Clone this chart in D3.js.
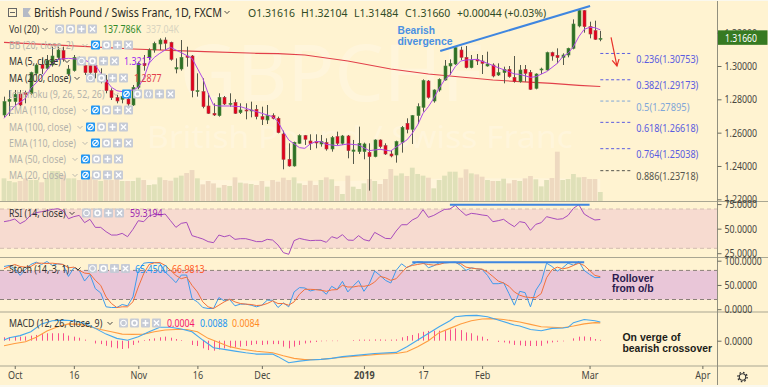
<!DOCTYPE html>
<html>
<head>
<meta charset="utf-8">
<script src="https://cdn.jsdelivr.net/npm/d3@7/dist/d3.min.js"></script>
<style>
  html, body { margin: 0; padding: 0; background: #fff3d1; overflow: hidden; }
  svg { display: block; }
  text { font-family: "Noto Sans", sans-serif; }
</style>
</head>
<body>
<div id="container"></div>
<script>
/* DATA */
const opens = [1.2706,1.2788,1.2786,1.2832,1.2840,1.2836,1.2956,1.3010,1.2986,1.3006,
  1.3052,1.3092,1.2952,1.2972,1.3046,1.3002,1.3002,1.3002,1.2916,1.2916,
  1.2852,1.2810,1.2800,1.2802,1.2766,1.2872,1.3016,1.3052,1.3096,1.3132,
  1.3156,1.3142,1.2982,1.2982,1.3060,1.3060,1.2846,1.2846,1.2760,1.2716,
  1.2702,1.2812,1.2772,1.2782,1.2720,1.2736,1.2732,1.2740,1.2696,1.2676,
  1.2702,1.2686,1.2592,1.2440,1.2400,1.2536,1.2582,1.2550,1.2546,1.2532,
  1.2540,1.2502,1.2576,1.2536,1.2580,1.2488,1.2486,1.2486,1.2482,1.2456,
  1.2556,1.2522,1.2472,1.2466,1.2542,1.2656,1.2620,1.2702,1.2752,1.2910,
  1.2790,1.2856,1.2916,1.3000,1.3012,1.3096,1.3052,1.2990,1.3040,1.3030,
  1.3000,1.3006,1.2946,1.2960,1.2980,1.2932,1.2906,1.2980,1.2962,1.2866,
  1.2976,1.2976,1.3080,1.3064,1.3052,1.3066,1.3106,1.3240,1.3332,1.3236,
  1.3212,1.31616]
const highs = [1.2816,1.2856,1.2856,1.2856,1.2852,1.2966,1.3016,1.3046,1.3066,1.3116,
  1.3116,1.3116,1.3006,1.3066,1.3056,1.3036,1.3026,1.3016,1.2986,1.2946,
  1.2866,1.2826,1.2846,1.2856,1.2886,1.3026,1.3066,1.3106,1.3146,1.3166,
  1.3172,1.3146,1.3046,1.3156,1.3116,1.3066,1.2956,1.2926,1.2836,1.2776,
  1.2836,1.2820,1.2836,1.2800,1.2776,1.2776,1.2786,1.2766,1.2756,1.2766,
  1.2716,1.2696,1.2612,1.2536,1.2546,1.2590,1.2586,1.2590,1.2590,1.2586,
  1.2566,1.2580,1.2606,1.2586,1.2586,1.2556,1.2636,1.2540,1.2536,1.2560,
  1.2560,1.2536,1.2496,1.2552,1.2640,1.2686,1.2706,1.2776,1.2920,1.2916,
  1.2860,1.2926,1.3036,1.3040,1.3116,1.3116,1.3120,1.3066,1.3072,1.3066,
  1.3086,1.3016,1.3016,1.2996,1.3000,1.3060,1.3006,1.3006,1.2976,1.2956,
  1.2990,1.3086,1.3086,1.3106,1.3076,1.3110,1.3280,1.3336,1.3336,1.3266,
  1.3272,1.32104]
const lows = [1.2692,1.2700,1.2766,1.2760,1.2776,1.2826,1.2946,1.2952,1.2976,1.2996,
  1.3036,1.3026,1.2940,1.2966,1.3026,1.2946,1.2946,1.2926,1.2896,1.2836,
  1.2796,1.2776,1.2776,1.2760,1.2760,1.2860,1.2972,1.3036,1.3080,1.3096,
  1.3096,1.3032,1.2956,1.2972,1.2996,1.2812,1.2816,1.2746,1.2712,1.2700,
  1.2696,1.2766,1.2756,1.2712,1.2712,1.2680,1.2692,1.2680,1.2646,1.2652,
  1.2680,1.2596,1.2380,1.2396,1.2396,1.2532,1.2526,1.2496,1.2506,1.2516,
  1.2492,1.2486,1.2526,1.2526,1.2446,1.2412,1.2472,1.2440,1.2252,1.2452,
  1.2506,1.2466,1.2452,1.2420,1.2480,1.2596,1.2532,1.2652,1.2726,1.2804,
  1.2780,1.2846,1.2912,1.2946,1.3006,1.3036,1.2986,1.2986,1.3006,1.2952,
  1.2996,1.2932,1.2940,1.2896,1.2930,1.2900,1.2900,1.2906,1.2856,1.2860,
  1.2952,1.2972,1.3032,1.3016,1.3006,1.3052,1.3100,1.3232,1.3200,1.3166,
  1.3156,1.31484]
const closes = [1.2786,1.2800,1.2830,1.2766,1.2830,1.2960,1.3006,1.2986,1.3032,1.3060,
  1.3096,1.3040,1.2982,1.3052,1.3036,1.2960,1.2960,1.2960,1.2940,1.2852,
  1.2810,1.2790,1.2816,1.2772,1.2872,1.3016,1.3002,1.3096,1.3136,1.3156,
  1.3136,1.3040,1.2990,1.3052,1.3052,1.2852,1.2852,1.2756,1.2716,1.2706,
  1.2812,1.2772,1.2776,1.2716,1.2736,1.2732,1.2736,1.2696,1.2680,1.2702,
  1.2686,1.2600,1.2440,1.2400,1.2542,1.2582,1.2560,1.2534,1.2538,1.2546,
  1.2502,1.2570,1.2536,1.2580,1.2492,1.2496,1.2536,1.2532,1.2456,1.2556,
  1.2516,1.2472,1.2460,1.2546,1.2632,1.2620,1.2702,1.2756,1.2912,1.2812,
  1.2856,1.2920,1.3000,1.3016,1.3110,1.3052,1.2990,1.3036,1.3030,1.3016,
  1.3012,1.2940,1.2960,1.2980,1.2936,1.2906,1.2976,1.2956,1.2860,1.2952,
  1.2982,1.3080,1.3060,1.3050,1.3066,1.3106,1.3252,1.3332,1.3236,1.3192,
  1.3160,1.31660]
const volumes = [347,306,286,306,347,321,321,286,347,459,
  459,398,347,347,321,321,372,321,306,321,
  321,347,306,306,306,357,321,245,255,362,
  321,311,357,388,428,474,347,255,306,270,
  204,245,230,362,281,270,260,245,306,219,
  321,296,357,321,362,270,245,311,245,321,
  362,332,230,107,388,219,184,270,337,306,
  260,337,490,388,423,383,510,413,388,357,
  194,321,388,449,449,357,485,423,408,372,
  321,306,306,342,270,321,306,347,383,332,
  224,321,352,755,321,337,413,362,367,337,
  337,137.786]
const volMaBars = [19,40,60,80,100,111]
const volMa = [330,320,300,340,350,337]

const ma5Bars = [0,2,4,5,7,8,9,10,12,14,15,17,18,20,21,22,24,25,26,27,28,29,30,31,33,35,37,38,39,40,42,44,47,
  48,50,51,52,53,55,56,57,58,59,60,62,64,66,68,70,72,74,75,76,77,78,79,80,81,82,83,84,85,86,88,90,92,94,95,96,
  98,99,101,103,104,105,106,107,108,109,110,111]
const ma5 = [1.2686,1.2760,1.2806,1.2866,1.2932,1.2976,1.3016,1.3040,1.3046,1.3040,1.3036,1.3006,1.2956,1.2872,1.2852,1.2846,1.2856,1.2872,1.2926,1.3016,1.3052,1.3076,1.3096,1.3112,1.3080,1.3046,1.2926,1.2836,1.2766,1.2760,1.2760,1.2756,1.2726,
  1.2716,1.2696,1.2666,1.2606,1.2556,1.2510,1.2506,1.2532,1.2546,1.2546,1.2530,1.2522,1.2532,1.2526,1.2492,1.2500,1.2490,1.2536,1.2556,1.2596,1.2646,1.2716,1.2756,1.2806,1.2866,1.2916,1.2946,1.2996,1.3030,1.3036,1.3040,1.3016,1.2990,1.2966,1.2952,1.2950,
  1.2932,1.2936,1.2966,1.3016,1.3056,1.3076,1.3116,1.3176,1.3220,1.3232,1.3230,1.3217]
const ma200Bars = [0,12,24,36,47,51,56,64,72,79,83,91,96,102,107,111]
const ma200 = [1.3142,1.3122,1.3102,1.3088,1.3076,1.3074,1.3066,1.3030,1.2982,1.2952,1.2940,1.2916,1.2906,1.2896,1.2884,1.2877]

const rsi = [57.1,58.1,59.8,55.1,58.1,63.9,66.2,67.3,68.3,69.6,
  70.3,68.3,60.1,62.2,63.5,56.1,59.5,51.3,51.3,46.9,
  43.5,43.5,45.2,41.8,49.3,58.1,57.1,62.9,64.6,63.9,
  64.9,58.1,51.3,55.4,56.4,42.9,41.2,39.5,36.8,35.7,
  43.5,41.8,43.2,39.1,39.8,39.8,38.4,36.8,36.8,39.1,
  38.4,33.4,25.6,23.9,37.8,40.1,38.8,37.8,38.1,38.1,
  36.1,41.8,40.1,43.9,38.4,38.1,42.9,38.8,37.4,46.2,
  43.2,40.1,39.8,47.6,54.0,54.0,58.8,61.5,69.3,61.5,
  63.5,66.6,69.6,70.0,73.7,68.3,63.5,65.6,64.9,63.9,
  63.2,57.1,58.1,59.5,55.4,52.0,57.1,56.1,48.3,54.4,
  56.1,62.2,60.8,59.5,60.1,63.5,70.7,74.4,64.9,61.5,
  58.8,59.3194]
const stochK = [88.1,90.2,83.3,69.7,82.0,92.2,97.0,92.2,98.3,90.2,
  93.6,92.2,67.6,85.4,80,58.1,71.7,42.4,33.5,4.9,
  3.5,3.5,9.7,7.0,25.4,80,94.9,96.3,96.3,94.9,
  76.5,66.3,54.7,70.4,70.4,21.9,15.1,3.5,1.5,1.5,
  24.0,17.2,19.9,7.0,10.4,10.4,8.3,4.9,8.3,18.5,
  18.5,3.5,13.1,4.9,35.6,44.5,43.8,37.6,40.4,40.4,
  30.8,47.2,40.4,57.4,35.6,47.9,58.8,36.9,52.6,78.6,
  69.7,59.5,54.0,80,93.6,85.4,92.2,97.7,97.0,85.4,
  89.5,95.6,95.6,96.3,97.0,90.2,80,85.4,83.3,82.0,
  69.7,52.6,52.6,54.7,32.2,8.3,36.9,34.2,4.9,39.0,
  56.0,94.9,88.1,78.6,85.4,94.9,90.8,98.3,80,71.7,
  65,65.45]
const stochD = [83.3,88.1,92.2,88.1,86.7,88.1,94.9,94.9,94.2,94.9,
  93.6,92.2,85.4,86.7,80,74.5,73.1,59.5,49.2,25.4,
  11.7,3.5,4.9,4.9,15.1,45.8,73.1,92.2,95.6,96.3,
  90.2,80,69.7,62.9,66.1,49.2,35.6,15.1,4.9,1.5,
  8.3,15.1,20.6,15.1,11.7,10.4,9.7,7.6,8.3,11.7,
  17.2,11.7,11.7,8.3,15.1,30.8,41.0,41.0,40.4,39.0,
  36.9,39.7,40.4,49.2,45.8,45.8,47.9,47.2,49.2,56.0,
  67.6,64.9,59.5,62.9,75.1,86.7,90.2,92.2,94.2,92.2,
  90.8,92.2,95.6,96.3,96.3,94.2,86.7,84.7,83.3,82.6,
  76.5,67.6,58.1,54.0,47.2,35.6,28.8,25.4,24.0,24.0,
  32.2,64.9,81.3,86.7,83.3,85.4,90.2,94.9,90.2,80,
  69.7,66.98]

const macdBars = [0,1,3,5,7,9,11,13,15,17,19,21,23,25,27,29,31,33,35,37,39,41,43,45,47,48,50,51,53,55,57,59,61,63,66,69,73,75,78,81,83,84,86,88,90,92,95,96,98,100,102,104,105,106,108,110,111]
const macd = [.0003,.0014,.0024,.0042,.0079,.0094,.0097,.0094,.0082,.0058,.0031,.0011,.0002,.0019,.0042,.0063,.0063,.0055,.0042,.0003,-.0033,-.0041,-.0049,-.0057,-.0063,-.0063,-.0063,-.0075,-.0104,-.0096,-.0091,-.0088,-.0083,-.0075,-.0068,-.0060,-.0055,-.0028,.0019,.0066,.0094,.0113,.0118,.0119,.0113,.0097,.0074,.0069,.0053,.0047,.0058,.0060,.0063,.0085,.0100,.0094,.0088]
const signalBars = [0,2,4,6,8,10,12,14,16,18,20,22,24,26,28,30,32,34,36,38,40,42,44,46,47,50,52,54,56,59,62,66,70,73,75,77,79,81,83,85,87,89,91,93,96,98,100,102,104,106,108,110,111]
const signal = [-.0024,-.0013,-.0005,.0016,.0046,.0066,.0079,.0077,.0066,.0053,.0042,.0031,.0030,.0031,.0042,.0050,.0053,.0053,.0042,.0011,-.0009,-.0028,-.0039,-.0046,-.0050,-.0057,-.0071,-.0083,-.0089,-.0088,-.0080,-.0072,-.0063,-.0060,-.0052,-.0028,0,.0038,.0058,.0079,.0094,.0102,.0104,.0100,.0088,.0077,.0066,.0063,.0061,.0069,.0079,.0085,.0084]
const hist = [.0016,.0017,.0019,.0019,.0020,.0024,.0027,.0031,.0035,.0035,
  .0035,.0035,.0024,.0019,.0014,.0005,0,-.0013,-.0016,-.0024,
  -.0031,-.0036,-.0039,-.0036,-.0020,-.0009,.0003,.0008,.0011,.0016,
  .0019,.0014,.0008,.0003,0,-.0020,-.0025,-.0036,-.0044,-.0047,
  -.0041,-.0036,-.0033,-.0031,-.0028,-.0025,-.0020,-.0016,-.0020,-.0017,
  -.0016,-.0016,-.0028,-.0036,-.0028,-.0020,-.0013,-.0009,-.0006,-.0003,
  -.0002,-.0002,-.0002,0,0,.0003,.0005,.0005,.0005,.0006,
  .0006,.0005,.0005,.0006,.0016,.0022,.0027,.0035,.0042,.0046,
  .0047,.0047,.0049,.0053,.0058,.0050,.0039,.0035,.0024,.0019,
  .0008,0,-.0006,-.0008,-.0013,-.0020,-.0022,-.0025,-.0025,-.0025,
  -.0024,-.0013,-.0008,-.0005,-.0003,0,.0011,.0019,.0020,.0017,
  .0008,.0004]

const fibLevels = ["0.236","0.382","0.5","0.618","0.764","0.886"]
const fibPrices = [1.30753,1.29173,1.27895,1.26618,1.25038,1.23718]

const timeBars = [2,13,25,36,48,67,78,89,109,130]
const timeLabels = ["Oct","16","Nov","16","Dec","2019","17","Feb","Mar","Apr"]
const priceTicks = [1.22,1.24,1.26,1.28,1.30,1.32]
const rsiTicks = [25,50,75]
const stochTicks = [0,50,100]
const macdTicks = [0]

/* CONSTANTS */
const width = 768, height = 387, axisX = 717.5
const bg = "#fff3d1", green = "#2f6f25", red = "#e4001b"
const fibColors = ["#5a5ce0","#5a5ce0","#7fa6d8","#5a5ce0","#5a5ce0","#55554d"]
const lastIdx = opens.length - 1

/* SCALES */
const x = d3.scaleLinear().domain([0, 111]).range([4, 600.3])
const yPrice = d3.scaleLinear().domain([1.22, 1.30]).range([199.3, 66])
const yVol = d3.scaleLinear().domain([0, 137.786]).range([201, 192])
const yRsi = d3.scaleLinear().domain([30, 70]).range([248.3, 209])
const yStoch = d3.scaleLinear().domain([0, 100]).range([309.2, 260.7])
const yMacd = d3.scaleLinear().domain([0, .0088]).range([340.7, 322])

const svg = d3.select("#container").append("svg").attr("width", width).attr("height", height)
svg.append("rect").attr("width", width).attr("height", height).attr("fill", bg)

svg.append("clipPath").attr("id", "mainClip").append("rect")
  .attr("x", 0).attr("y", 0).attr("width", axisX).attr("height", 201)

// squeeze a text horizontally to the width it has in the picture
const fit = (sel, len) => sel.attr("textLength", len).attr("lengthAdjust", "spacingAndGlyphs")
const squeeze = (sel, k) => fit(sel, sel.node().getComputedTextLength() * k)

/* WATERMARK */
svg.append("text").attr("x", 331).attr("y", 101).attr("text-anchor", "middle")
  .attr("fill", "#fff").attr("opacity", .22).style("font-size", "78px").text("GBPCHF")
fit(svg.append("text").attr("x", 147).attr("y", 148)
  .attr("fill", "#fff").attr("opacity", .22).style("font-size", "30px").text("British Pound / Swiss Franc"), 426)

/* MAIN PANE */
const main = svg.append("g").attr("clip-path", "url(#mainClip)")

// volume
main.append("path")
  .attr("d", d3.area().x((d, i) => x(volMaBars[i])).y0(yVol(0)).y1(d => yVol(d))(volMa))
  .attr("fill", "#fff").attr("opacity", .22)
main.selectAll("rect.vol").data(volumes).join("rect")
  .attr("class", "vol")
  .attr("x", (d, i) => x(i) - 2.4)
  .attr("width", 4.8)
  .attr("y", d => yVol(d))
  .attr("height", d => yVol(0) - yVol(d))
  .attr("fill", (d, i) => closes[i] >= opens[i] ? "#dfe0b8" : "#eed9c0")

// red moving average goes under candles
const sparseLine = (bars, vals, yScale) => d3.line().x((d, i) => x(bars[i])).y(d => yScale(d))(vals)
const fullLine = (vals, yScale) => d3.line().x((d, i) => x(i)).y(d => yScale(d))(vals)

main.append("path").attr("d", sparseLine(ma200Bars, ma200, yPrice))
  .attr("fill", "none").attr("stroke", "#e2404a").attr("stroke-width", 1.1)

// candles
const candle = main.selectAll("g.candle").data(opens).join("g").attr("class", "candle")
candle.append("line")
  .attr("x1", (d, i) => Math.round(x(i)) + .5).attr("x2", (d, i) => Math.round(x(i)) + .5)
  .attr("y1", (d, i) => yPrice(highs[i])).attr("y2", (d, i) => yPrice(lows[i]))
  .attr("stroke", "#55584a").attr("stroke-width", 1)
candle.append("rect")
  .attr("x", (d, i) => Math.round(x(i)) - 1)
  .attr("width", 3)
  .attr("y", (d, i) => yPrice(Math.max(opens[i], closes[i])))
  .attr("height", (d, i) => Math.max(1, Math.abs(yPrice(opens[i]) - yPrice(closes[i]))))
  .attr("fill", (d, i) => closes[i] >= opens[i] ? green : red)
  .attr("stroke", (d, i) => closes[i] >= opens[i] ? "#4d8a42" : "#a8434a")
  .attr("stroke-width", .6)

main.append("path").attr("d", sparseLine(ma5Bars, ma5, yPrice))
  .attr("fill", "none").attr("stroke", "#b04ae8").attr("stroke-width", 1)

// bearish divergence trend line
svg.append("line")
  .attr("x1", x(81.2)).attr("y1", yPrice(1.309)).attr("x2", x(109.1)).attr("y2", yPrice(1.336))
  .attr("stroke", "#3f86e0").attr("stroke-width", 2)

// fib levels
fibPrices.forEach((p, i) => {
  svg.append("line")
    .attr("x1", x(111)).attr("x2", x(116.9)).attr("y1", yPrice(p)).attr("y2", yPrice(p))
    .attr("stroke", fibColors[i]).attr("stroke-dasharray", "3 2.4")
  const str = `${fibLevels[i]}(${p.toFixed(5)})`
  fit(svg.append("text").attr("x", x(111) + 36).attr("y", yPrice(p) + 9.5)
    .attr("fill", fibColors[i]).style("font-size", "10.5px").text(str), str.length * 4.43)
})

// red arrow
svg.append("defs").append("marker").attr("id", "arrow")
  .attr("markerWidth", 10).attr("markerHeight", 10).attr("refX", 7).attr("refY", 4)
  .attr("orient", "auto").attr("markerUnits", "userSpaceOnUse")
  .append("path").attr("d", "M0.5,0.5L7,4L0.5,7.5").attr("fill", "none").attr("stroke", "#e8312a").attr("stroke-width", 1.2)
svg.append("line")
  .attr("x1", x(113)).attr("y1", yPrice(1.3172)).attr("x2", x(114.1)).attr("y2", yPrice(1.30))
  .attr("stroke", "#e8312a").attr("stroke-width", 1.2).attr("marker-end", "url(#arrow)")

/* RSI PANE */
svg.append("rect").attr("x", 0).attr("width", axisX).attr("y", yRsi(70)).attr("height", yRsi(30) - yRsi(70)).attr("fill", "#f7dbd0")
;[70, 30].forEach(v => svg.append("line").attr("x1", 0).attr("x2", axisX).attr("y1", yRsi(v)).attr("y2", yRsi(v))
  .attr("stroke", "#d3bcb0").attr("stroke-dasharray", "4 3"))
svg.append("path").attr("d", fullLine(rsi, yRsi)).attr("fill", "none").attr("stroke", "#a84cbc").attr("stroke-width", 1)
svg.append("line").attr("x1", x(83)).attr("x2", x(109)).attr("y1", yRsi(74.4)).attr("y2", yRsi(74.4))
  .attr("stroke", "#3f86e0").attr("stroke-width", 2)

/* STOCH PANE */
svg.append("rect").attr("x", 0).attr("width", axisX).attr("y", yStoch(80)).attr("height", yStoch(20) - yStoch(80)).attr("fill", "#e9c6d8")
;[80, 20].forEach(v => svg.append("line").attr("x1", 0).attr("x2", axisX).attr("y1", yStoch(v)).attr("y2", yStoch(v))
  .attr("stroke", "#8a8078").attr("stroke-dasharray", "4 3"))
svg.append("path").attr("d", fullLine(stochK, yStoch)).attr("fill", "none").attr("stroke", "#3f9bec").attr("stroke-width", 1)
svg.append("path").attr("d", fullLine(stochD, yStoch)).attr("fill", "none").attr("stroke", "#f2703c").attr("stroke-width", 1)
svg.append("line").attr("x1", x(76)).attr("x2", x(108)).attr("y1", yStoch(97)).attr("y2", yStoch(97))
  .attr("stroke", "#3f86e0").attr("stroke-width", 2)

/* MACD PANE */
svg.selectAll("rect.hist").data(hist).join("rect").attr("class", "hist")
  .attr("x", (d, i) => Math.round(x(i)))
  .attr("width", 1)
  .attr("y", d => Math.min(yMacd(0), yMacd(d)))
  .attr("height", d => Math.abs(yMacd(d) - yMacd(0)))
  .attr("fill", "#f8508a")
svg.append("path").attr("d", sparseLine(signalBars, signal, yMacd)).attr("fill", "none").attr("stroke", "#ff9c40").attr("stroke-width", 1.1)
svg.append("path").attr("d", sparseLine(macdBars, macd, yMacd)).attr("fill", "none").attr("stroke", "#46a8ee").attr("stroke-width", 1.1)

/* SEPARATORS */
;[201.5, 257.5, 312, 366].forEach(y => svg.append("line").attr("x1", 0).attr("x2", width).attr("y1", y).attr("y2", y)
  .attr("stroke", "#a9a692").attr("stroke-width", y === 312 ? 1.2 : 1))
svg.append("line").attr("x1", axisX).attr("x2", axisX).attr("y1", 0).attr("y2", 385).attr("stroke", "#918f7f").attr("stroke-width", 1)
svg.append("rect").attr("y", 385).attr("width", width).attr("height", 2).attr("fill", "#faf8ee")
svg.append("rect").attr("y", 0).attr("width", width).attr("height", 1).attr("fill", "#faf8ee")

/* AXES */
function rightAxis(scale, ticks, fmt) {
  const g = svg.append("g").attr("transform", `translate(${axisX},0)`)
    .call(d3.axisRight(scale).tickValues(ticks).tickFormat(fmt).tickSize(4).tickPadding(3))
  g.select(".domain").remove()
  g.selectAll("line").attr("stroke", "#6b6a5d")
  g.selectAll("text").attr("fill", "#47473f").style("font-size", "10.5px").style("font-family", '"Noto Sans", sans-serif')
    .each(function () { fit(d3.select(this), this.textContent.length * 4.65) })
}
rightAxis(yPrice, priceTicks, d3.format(".5f"))
rightAxis(yRsi, rsiTicks, d3.format(".4f"))
rightAxis(yStoch, stochTicks, d3.format(".4f"))
rightAxis(yMacd, macdTicks, d3.format(".4f"))

const xAxis = svg.append("g").attr("transform", "translate(0,366)")
  .call(d3.axisBottom(x).tickValues(timeBars).tickFormat((d, i) => timeLabels[i]).tickSize(3).tickPadding(3))
xAxis.select(".domain").remove()
xAxis.selectAll("line").attr("stroke", "#6b6a5d")
xAxis.selectAll("text").attr("fill", "#47473f").style("font-size", "10.5px").style("font-family", '"Noto Sans", sans-serif')
  .style("font-weight", (d, i) => timeLabels[i] === "2019" ? 700 : 400)
  .each(function () { squeeze(d3.select(this), .86) })

// last price tag
svg.append("rect").attr("x", axisX + .5).attr("y", yPrice(closes[lastIdx]) - 8).attr("width", 49.5).attr("height", 14.5).attr("fill", "#367a22")
fit(svg.append("text").attr("x", axisX + 7.5).attr("y", yPrice(closes[lastIdx]) + 3.5).attr("fill", "#fff")
  .style("font-size", "10.5px").text(closes[lastIdx].toFixed(5)), 32)

// gear
const gear = svg.append("g").attr("transform", "translate(742.5,377)")
gear.append("circle").attr("r", 3.2).attr("fill", "none").attr("stroke", "#333").attr("stroke-width", 1.1)
gear.append("circle").attr("r", 4.6).attr("fill", "none").attr("stroke", "#333").attr("stroke-width", 1.4).attr("stroke-dasharray", "1.6 2")

/* LEGEND */
function btn(bx, cy, kind, blue) {
  const g = svg.append("g").attr("transform", `translate(${bx + 4.5},${cy})`)
  g.append("rect").attr("x", -4.5).attr("y", -4.5).attr("width", 9).attr("height", 9).attr("rx", 1)
    .attr("fill", blue ? "#2196f3" : "#c6cbd6")
  const s = () => g.append("path").attr("fill", "none").attr("stroke", "#fff").attr("stroke-width", 1.1)
  if (kind === "eye") {
    g.append("circle").attr("r", 2.8).attr("fill", "none").attr("stroke", "#fff").attr("stroke-width", 1.1)
    if (blue) s().attr("d", "M-2.5,2.5L2.5,-2.5")
  } else if (kind === "gear") {
    g.append("circle").attr("r", 2.5).attr("fill", "none").attr("stroke", "#fff").attr("stroke-width", 1.5)
  } else if (kind === "code") {
    s().attr("d", "M-1,-3L-2.5,0L-1,3M1,-3L2.5,0L1,3")
  } else if (kind === "plus") {
    s().attr("d", "M-3,0H3M0,-3V3").attr("stroke-width", 1.4)
  } else {
    s().attr("d", "M-2.6,-2.6L2.6,2.6M-2.6,2.6L2.6,-2.6").attr("stroke-width", 1.4)
  }
}
function btnRow(bx, cy, kinds, blueFirst) {
  kinds.forEach((k, i) => btn(bx + i * 11, cy, k, blueFirst && i === 0))
}
function label(tx, cy, str, color, k) {
  const t = svg.append("text").attr("x", tx).attr("y", cy + 4).attr("fill", color)
    .style("font-size", "10.5px").text(str)
  return squeeze(t, k || .84)
}
function chevron(cx, cy, color) {
  svg.append("path").attr("d", `M${cx - 2.5},${cy - 1}L${cx},${cy + 1.5}L${cx + 2.5},${cy - 1}`)
    .attr("fill", "none").attr("stroke", color).attr("stroke-width", .9)
}
const basicBtns = ["eye", "gear", "plus", "x"]

// title row
svg.append("rect").attr("x", 8.5).attr("y", 8.5).attr("width", 8).attr("height", 8).attr("fill", "none").attr("stroke", "#666")
svg.append("line").attr("x1", 10).attr("x2", 15).attr("y1", 12.5).attr("y2", 12.5).attr("stroke", "#666")
svg.append("path").attr("d", "M23,8H31L28,12.5L31,17H23Z").attr("fill", "#b5bac6")
fit(svg.append("text").attr("x", 34).attr("y", 17).attr("fill", "#2b2b25").style("font-size", "12.5px")
  .text("British Pound / Swiss Franc, 1D, FXCM"), 188)
chevron(227, 12, "#333")
;[[248, "O1.31616"], [301, "H1.32104"], [354, "L1.31484"], [405, "C1.31660"], [457, "+0.00044 (+0.03%)"]].forEach(d => {
  const t = svg.append("text").attr("x", d[0]).attr("y", 16.5).attr("fill", "#2f4a25").style("font-size", "11.5px").text(d[1])
  squeeze(t, .91)
})

// visible rows
label(9, 29, "Vol (20)", "#333")
chevron(45, 29, "#333")
btnRow(55, 29, basicBtns)
label(103, 29, "137.786K", "#2f8a2a")
label(146, 29, "337.04K", "#d8d3c0")

label(9, 61, "MA (5, close)", "#333")
chevron(67, 61, "#333")
btnRow(77, 61, basicBtns)
label(124, 61, "1.3217", "#9c27f0")

label(9, 78, "MA (200, close)", "#333")
chevron(77, 78, "#333")
btnRow(86, 78, basicBtns)
label(134, 78, "1.2877", "#e2404a")

const hiddenRows = [
  ["BB (20, close, 2)", 91, 45, basicBtns],
  ["Ichimoku (9, 26, 52, 26)", 122, 94, ["eye", "gear", "code", "plus", "x"]],
  ["EMA (110, close)", 91, 110, basicBtns],
  ["MA (100, close)", 86, 127, basicBtns],
  ["EMA (110, close)", 91, 143, basicBtns],
  ["MA (50, close)", 81, 159, basicBtns],
  ["MA (20, close)", 81, 175, basicBtns]
]
hiddenRows.forEach(r => {
  label(9, r[2], r[0], "#b3b2ab")
  chevron(r[1] - 6, r[2], "#b3b2ab")
  btnRow(r[1], r[2], r[3], true)
})

label(9, 213, "RSI (14, close)", "#333")
chevron(72, 213, "#333")
btnRow(82, 213, basicBtns)
label(130, 213, "59.3194", "#9c27b0")

label(9, 268.5, "Stoch (14, 3, 1)", "#333")
chevron(78, 268.5, "#333")
btnRow(88, 268.5, basicBtns)
label(135, 268.5, "65.4500", "#2196f3")
label(172, 268.5, "66.9813", "#ff5a1f")

label(9, 323, "MACD (12, 26, close, 9)", "#333")
chevron(110, 323, "#333")
btnRow(119, 323, basicBtns)
label(167, 323, "0.0004", "#f4196e")
label(200, 323, "0.0088", "#2196f3")
label(232, 323, "0.0084", "#ff8a1f")

/* ANNOTATIONS */
const note = (tx, cy, str, color, len) => fit(svg.append("text").attr("x", tx).attr("y", cy + 4).attr("fill", color)
  .style("font-family", '"Liberation Sans", sans-serif').style("font-size", "11px").style("font-weight", 700).text(str), len)
note(397.5, 30, "Bearish", "#4a90e2", 37.5)
note(397.5, 41, "divergence", "#4a90e2", 55)
note(612, 278, "Rollover", "#2a1a4d", 41.5)
note(612, 288, "from o/b", "#2a1a4d", 41.5)
note(622.5, 337, "On verge of", "#1c1c18", 58)
note(622.5, 348, "bearish crossover", "#1c1c18", 89.5)
</script>
</body>
</html>
